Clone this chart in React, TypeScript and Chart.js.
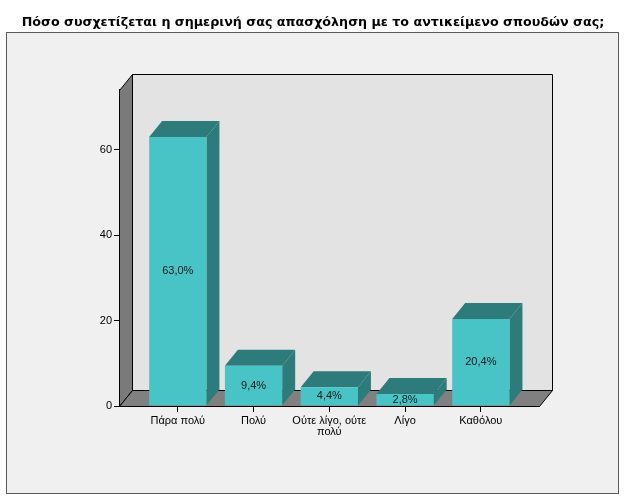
import { useEffect, useRef } from 'react';
import Chart from 'chart.js/auto';
import React from 'react';

const chartTitle = 'Πόσο συσχετίζεται η σημερινή σας απασχόληση με το αντικείμενο σπουδών σας;';
const categories: (string | string[])[] = ['Πάρα πολύ', 'Πολύ', ['Ούτε λίγο, ούτε', 'πολύ'], 'Λίγο', 'Καθόλου'];
const percents = [63.0, 9.4, 4.4, 2.8, 20.4];
const yTicks = [0, 20, 40, 60];

const FONT = "Arial, 'Liberation Sans', sans-serif";
// 3D depth of the SPSS style frame
const DX = 13;
const DY = 16;

const poly = (ctx: CanvasRenderingContext2D, pts: number[][], fill: string, stroke?: string) => {
  ctx.beginPath();
  pts.forEach(([x, y], i) => (i ? ctx.lineTo(x, y) : ctx.moveTo(x, y)));
  ctx.closePath();
  ctx.fillStyle = fill;
  ctx.fill();
  if (stroke) {
    ctx.strokeStyle = stroke;
    ctx.lineWidth = 1;
    ctx.stroke();
  }
};

const frame3d = {
  id: 'frame3d',
  beforeDraw(chart: any) {
    const { ctx, width, height } = chart;
    ctx.save();
    ctx.fillStyle = '#ffffff';
    ctx.fillRect(0, 0, width, height);
    ctx.fillStyle = '#f0f0f0';
    ctx.fillRect(6.5, 32.5, 612, 461);
    ctx.strokeStyle = '#5a5a5a';
    ctx.lineWidth = 1;
    ctx.strokeRect(6.5, 32.5, 612, 461);
    ctx.restore();
  },
  beforeDatasetsDraw(chart: any) {
    const { ctx, chartArea: a } = chart;
    const l = Math.round(a.left) + 0.5, r = Math.round(a.right) + 0.5;
    const t = Math.round(a.top) + 0.5, b = Math.round(a.bottom) + 0.5;
    ctx.save();
    // back wall
    poly(ctx, [[l + DX, t - DY], [r + DX, t - DY], [r + DX, b - DY], [l + DX, b - DY]], '#e3e3e3', '#000');
    // left wall
    poly(ctx, [[l, t], [l + DX, t - DY], [l + DX, b - DY], [l, b]], '#7a7a7a', '#000');
    // floor
    poly(ctx, [[l, b], [l + DX, b - DY], [r + DX, b - DY], [r, b]], '#808080', '#000');
    // bar tops and sides
    const meta = chart.getDatasetMeta(0);
    meta.data.forEach((bar: any) => {
      const { x, y, base, width } = bar.getProps(['x', 'y', 'base', 'width'], true);
      const bl = x - width / 2, br = x + width / 2;
      poly(ctx, [[bl, y], [bl + DX, y - DY], [br + DX, y - DY], [br, y]], '#2e7b7b');
      poly(ctx, [[br, y], [br + DX, y - DY], [br + DX, base - DY], [br, base]], '#2e7b7b');
    });
    ctx.restore();
  },
  afterDatasetsDraw(chart: any) {
    const { ctx } = chart;
    const meta = chart.getDatasetMeta(0);
    ctx.save();
    ctx.font = `11px ${FONT}`;
    ctx.fillStyle = '#1a1a1a';
    ctx.textAlign = 'center';
    ctx.textBaseline = 'middle';
    meta.data.forEach((bar: any, i: number) => {
      const { x, y, base } = bar.getProps(['x', 'y', 'base'], true);
      ctx.fillText(percents[i].toFixed(1).replace('.', ',') + '%', x, (y + base) / 2);
    });
    ctx.restore();
  }
};

const App: React.FC = () => {
  const canvasRef = useRef<HTMLCanvasElement>(null);

  useEffect(() => {
    document.body.style.margin = '0';
    if (!canvasRef.current) return;
    const chart = new Chart(canvasRef.current, {
      type: 'bar',
      data: {
        datasets: [{
          data: percents.map((v, i) => ({ x: i, y: v })),
          backgroundColor: '#48c3c6',
          borderWidth: 0,
          barPercentage: 0.756,
          categoryPercentage: 1
        }]
      },
      options: {
        responsive: false,
        animation: false,
        devicePixelRatio: 1,
        events: [],
        layout: { padding: 0 },
        plugins: {
          legend: { display: false },
          tooltip: { enabled: false },
          title: {
            display: true,
            text: chartTitle,
            color: '#000',
            font: { family: "'DejaVu Sans', Verdana, sans-serif", size: 12.7, weight: 'bold', lineHeight: 1.2 },
            padding: { top: 15, bottom: 59.76 }
          }
        },
        scales: {
          x: {
            type: 'linear',
            z: 1,
            offset: false,
            min: -0.776,
            max: 4.768,
            afterBuildTicks: (s: any) => { s.ticks = categories.map((_, i) => ({ value: i })); },
            afterFit: (s: any) => { s.height = 95; },
            ticks: {
              autoSkip: false,
              maxRotation: 0,
              padding: 3,
              color: '#000',
              font: { family: FONT, size: 11, lineHeight: 1.0 },
              callback: (_v: any, i: number) => categories[i]
            },
            grid: { offset: false, drawOnChartArea: false, drawTicks: true, tickLength: 6, color: '#000' },
            border: { display: true, color: '#000' }
          },
          y: {
            z: 1,
            min: 0,
            max: 74,
            afterBuildTicks: (s: any) => { s.ticks = yTicks.map(v => ({ value: v })); },
            afterFit: (s: any) => { s.width = 119; },
            ticks: { padding: 2, color: '#000', font: { family: FONT, size: 11 } },
            grid: { drawOnChartArea: false, drawTicks: true, tickLength: 5, color: '#000' },
            border: { display: true, color: '#000' }
          },
          yr: {
            type: 'linear',
            position: 'right',
            ticks: { display: false },
            grid: { display: false },
            border: { display: false },
            afterFit: (s: any) => { s.width = 87; }
          }
        }
      },
      plugins: [frame3d]
    } as any);
    return () => chart.destroy();
  }, []);

  return (
    <div style={{ width: 626, height: 501 }}>
      <canvas ref={canvasRef} width={626} height={501}></canvas>
    </div>
  );
};

export default App;
